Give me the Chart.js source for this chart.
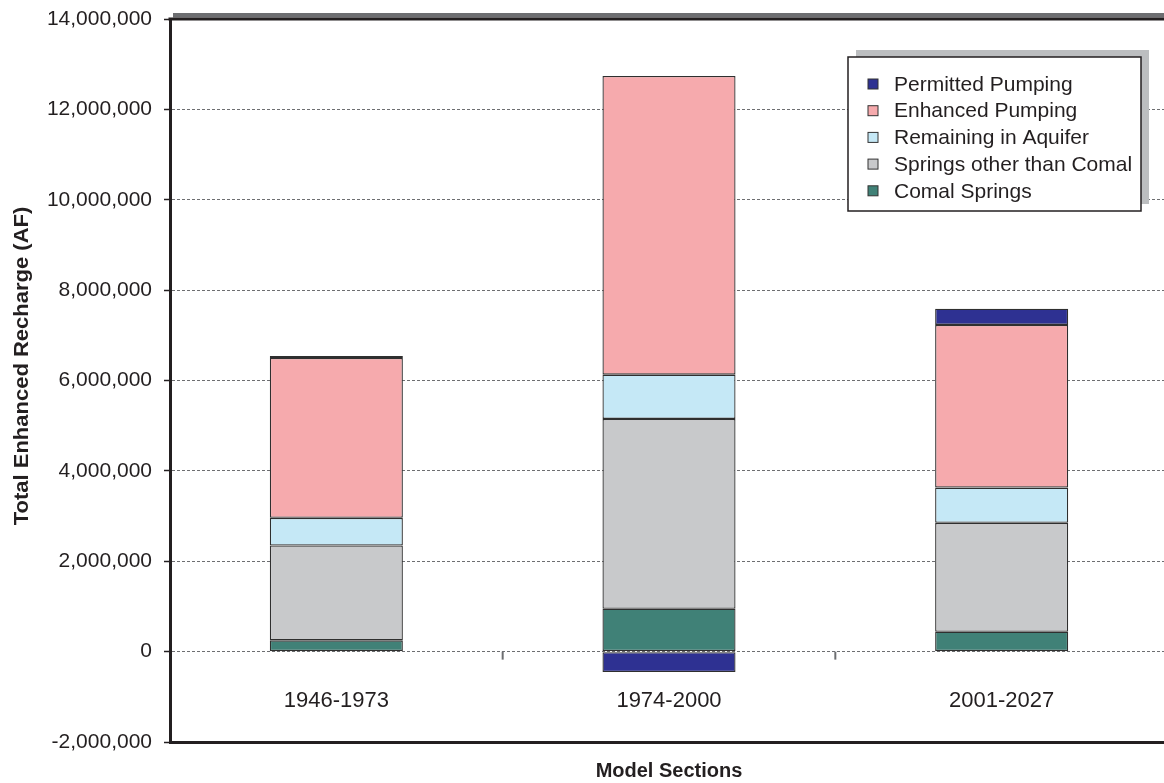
<!DOCTYPE html>
<html>
<head>
<meta charset="utf-8">
<script src="https://cdn.jsdelivr.net/npm/chart.js@4"></script>
<style>
  html, body { margin: 0; padding: 0; background: #fff; overflow: hidden; }
  canvas { display: block; }
</style>
</head>
<body>
<canvas id="chart" width="1170" height="783"></canvas>
<script>
// data
const categories = ['1946-1973', '1974-2000', '2001-2027'];
const comalSprings = [250000, 950000, 440000];
const otherSprings = [2100000, 4200000, 2410000];
const remainingInAquifer = [610000, 980000, 780000];
const enhancedPumping = [3540000, 6610000, 3600000];
const permittedPumping = [40000, -450000, 360000];
const yTicks = { min: -2000000, max: 14000000, step: 2000000 };
const yTitle = 'Total Enhanced Recharge (AF)';
const xTitle = 'Model Sections';

const FONT = '"Liberation Sans", Arial, Helvetica, sans-serif';
const INK = '#231f20';

const seriesList = [
    { label: 'Comal Springs', data: comalSprings, color: '#408177' },
    { label: 'Springs other than Comal', data: otherSprings, color: '#c8c9cb' },
    { label: 'Remaining in Aquifer', data: remainingInAquifer, color: '#c5e8f6' },
    { label: 'Enhanced Pumping', data: enhancedPumping, color: '#f6aaad' },
    { label: 'Permitted Pumping', data: permittedPumping, color: '#2e3192' }
];

// frame, category labels, y title and the boxed legend
const framePlugin = {
    id: 'frame',
    afterDatasetsDraw(chart) {
        const ctx = chart.ctx;
        const area = chart.chartArea;
        const x = chart.scales.x;
        const y = chart.scales.y;

        ctx.save();
        // shadow above the plot area
        ctx.fillStyle = '#6d6e71';
        ctx.fillRect(area.left + 3, area.top - 6, area.right - area.left, 4.5);
        // top border
        ctx.strokeStyle = INK;
        ctx.lineWidth = 3;
        ctx.beginPath();
        ctx.moveTo(area.left - 1.5, area.top);
        ctx.lineTo(area.right + 5, area.top);
        ctx.stroke();

        // small tick marks between categories on the zero line
        const y0 = y.getPixelForValue(0);
        ctx.strokeStyle = '#6d6e71';
        ctx.lineWidth = 2;
        for (let i = 0; i < categories.length - 1; i++) {
            const xm = (x.getPixelForValue(i) + x.getPixelForValue(i + 1)) / 2;
            ctx.beginPath();
            ctx.moveTo(xm, y0);
            ctx.lineTo(xm, y0 + 8);
            ctx.stroke();
        }

        // category labels sit low, inside the plot area
        ctx.fillStyle = INK;
        ctx.font = '22px ' + FONT;
        ctx.textAlign = 'center';
        ctx.textBaseline = 'middle';
        categories.forEach((c, i) => {
            ctx.fillText(c, x.getPixelForValue(i), area.bottom - 41);
        });

        // y axis title (slightly stretched along its length like the original)
        ctx.save();
        ctx.translate(22, 366);
        ctx.rotate(-Math.PI / 2);
        ctx.scale(1.1, 1);
        ctx.font = 'bold 20px ' + FONT;
        ctx.fillText(yTitle, 0, 0);
        ctx.restore();

        // legend box with shadow
        const box = { left: 848, top: 57, width: 293, height: 154 };
        ctx.fillStyle = '#bcbec0';
        ctx.fillRect(box.left + 8, box.top - 7, box.width, box.height);
        ctx.fillStyle = '#fff';
        ctx.fillRect(box.left, box.top, box.width, box.height);
        ctx.strokeStyle = INK;
        ctx.lineWidth = 1.5;
        ctx.strokeRect(box.left, box.top, box.width, box.height);

        ctx.font = '21px ' + FONT;
        ctx.textBaseline = 'middle';
        ctx.textAlign = 'left';
        const items = chart.data.datasets.slice().reverse();
        items.forEach((ds, i) => {
            const cy = box.top + 27 + i * 26.7;
            ctx.fillStyle = ds.backgroundColor;
            ctx.fillRect(box.left + 20, cy - 5, 10, 10);
            ctx.strokeStyle = '#333';
            ctx.lineWidth = 1;
            ctx.strokeRect(box.left + 20, cy - 5, 10, 10);
            ctx.fillStyle = INK;
            ctx.fillText(ds.label, box.left + 46, cy + 1);
        });
        ctx.restore();
    }
};

new Chart(document.getElementById('chart').getContext('2d'), {
    type: 'bar',
    data: {
        labels: categories,
        datasets: seriesList.map(s => ({
            label: s.label,
            data: s.data,
            backgroundColor: s.color,
            borderColor: '#2f2f2f',
            borderWidth: 1.3,
            borderSkipped: false,
            barPercentage: 0.4,
            categoryPercentage: 1.0
        }))
    },
    options: {
        responsive: false,
        animation: false,
        layout: { padding: { top: 19, right: 2, left: 0, bottom: 0 } },
        plugins: {
            legend: { display: false },
            tooltip: { enabled: false }
        },
        scales: {
            x: {
                stacked: true,
                grid: { display: false },
                border: { display: true, color: INK, width: 3 },
                ticks: { display: false },
                title: {
                    display: true,
                    text: xTitle,
                    color: INK,
                    font: { family: FONT, size: 20, weight: 'bold' },
                    padding: { top: 0, bottom: 0 }
                },
                afterFit(scale) { scale.height = 41; }
            },
            y: {
                stacked: true,
                min: yTicks.min,
                max: yTicks.max,
                grid: {
                    color: '#6d6e71',
                    lineWidth: 1,
                    drawTicks: true,
                    tickLength: 6,
                    tickColor: INK,
                    tickWidth: 1.5,
                    tickBorderDash: []
                },
                border: { display: true, color: INK, width: 3, dash: [3, 2] },
                ticks: {
                    stepSize: yTicks.step,
                    color: INK,
                    padding: 12,
                    font: { family: FONT, size: 21 },
                    callback: v => v.toLocaleString('en-US')
                },
                title: { display: false },
                afterFit(scale) {
                    scale.width = 170;
                    scale.paddingTop = 0;
                    scale.paddingBottom = 0;
                }
            }
        }
    },
    plugins: [framePlugin]
});
</script>
</body>
</html>
